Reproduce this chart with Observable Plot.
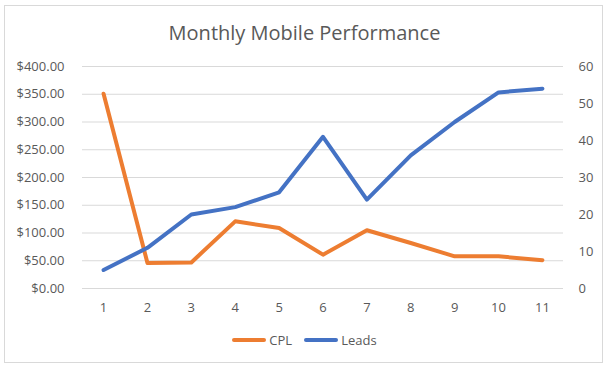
<!DOCTYPE html>
<html>
<head>
<meta charset="utf-8">
<script src="https://cdn.jsdelivr.net/npm/d3@7"></script>
<script src="https://cdn.jsdelivr.net/npm/@observablehq/plot@0.6"></script>
<style>
  html, body { margin: 0; padding: 0; background: #fff; }
  #wrap { position: relative; width: 609px; height: 373px; font-family: "Open Sans", "Noto Sans", sans-serif; color: #595959; }
  #frame { position: absolute; left: 4px; top: 5px; width: 599px; height: 358px; border: 1px solid #d9d9d9; box-sizing: border-box; }
  #title { position: absolute; left: 0; width: 609px; top: 19px; text-align: center; font-size: 20px; color: #595959; }
  #chart { position: absolute; left: 0; top: 0; }
  #legend { position: absolute; left: 0; width: 609px; top: 331px; display: flex; justify-content: center; gap: 12px; font-size: 13px; color: #595959; }
  .item { display: flex; align-items: center; }
  .sw { display: inline-block; width: 34px; height: 4px; border-radius: 2px; margin-right: 3px; }
</style>
</head>
<body>
<div id="wrap">
  <div id="frame"></div>
  <div id="chart"></div>
  <div id="title">Monthly Mobile Performance</div>
  <div id="legend">
    <div class="item"><span class="sw" style="background:#ED7D31"></span>CPL</div>
    <div class="item"><span class="sw" style="background:#4472C4"></span>Leads</div>
  </div>
</div>
<script>
const months = [1, 2, 3, 4, 5, 6, 7, 8, 9, 10, 11];
const cpl = [351, 46, 47, 121, 109, 61, 105, 82, 58, 58, 51];
const leads = [5, 11, 20, 22, 26, 41, 24, 36, 45, 53, 54];
const cplTicks = [0, 50, 100, 150, 200, 250, 300, 350, 400];
const leadTicks = [0, 10, 20, 30, 40, 50, 60];

const k = 400 / 60;
const cplData = months.map((m, i) => ({ m, v: cpl[i] }));
const leadData = months.map((m, i) => ({ m, v: leads[i] * k }));

const chart = Plot.plot({
  width: 609,
  height: 373,
  marginTop: 66,
  marginBottom: 85,
  marginLeft: 82,
  marginRight: 46,
  style: { fontFamily: "'Open Sans', 'Noto Sans', sans-serif", fontSize: "13px", color: "#595959", background: "transparent" },
  x: { type: "point", domain: months, padding: 0.48, round: false },
  y: { domain: [0, 400] },
  marks: [
    Plot.gridY(cplTicks, { stroke: "#d9d9d9", strokeOpacity: 1 }),
    Plot.axisY(cplTicks, { anchor: "left", tickSize: 0, tickPadding: 18, tickFormat: d => "$" + d.toFixed(2), label: null }),
    Plot.axisY(leadTicks.map(d => d * k), { anchor: "right", tickSize: 0, tickPadding: 15, textAnchor: "start", tickFormat: d => String(Math.round(d / k)), label: null }),
    Plot.axisX(months, { tickSize: 0, tickPadding: 14, label: null }),
    Plot.line(cplData, { x: "m", y: "v", stroke: "#ED7D31", strokeWidth: 4, strokeLinejoin: "round", strokeLinecap: "round" }),
    Plot.line(leadData, { x: "m", y: "v", stroke: "#4472C4", strokeWidth: 4, strokeLinejoin: "round", strokeLinecap: "round" })
  ]
});
document.getElementById("chart").appendChild(chart);
</script>
</body>
</html>
